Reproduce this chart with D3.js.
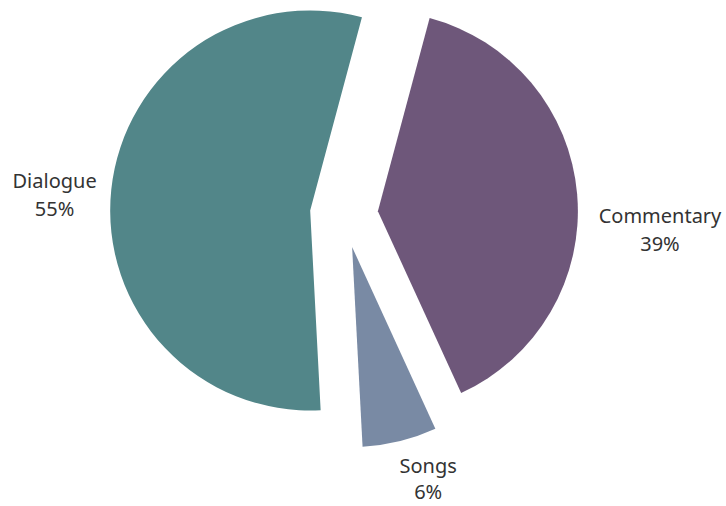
<!DOCTYPE html>
<html>
<head>
  <meta charset="UTF-8">
  <script src="https://d3js.org/d3.v7.min.js"></script>
  <style>
    body { margin: 0; background: #fff; }
    text { font-family: "Noto Sans", sans-serif; font-size: 20px; fill: #333; }
  </style>
</head>
<body>
  <div id="my_dataviz"></div>
  <script>
    // data
    var categories = ["Commentary", "Songs", "Dialogue"];
    var shares = [39, 6, 55];
    var colors = ["#6e577a", "#798aa4", "#528689"];

    var width = 726, height = 506;
    var cx = 344, cy = 214;
    var radius = 200;
    var explode = 34;
    var startDeg = 15;

    // label nudges (px) relative to the label arc, plus line gap
    var nudge = {
      "Dialogue": [-1, 4, 28],
      "Commentary": [27, 33, 28],
      "Songs": [15, -23, 26]
    };

    var data = categories.map(function (c, i) {
      return { name: c, value: shares[i], color: colors[i] };
    });

    var svg = d3.select("#my_dataviz")
      .append("svg")
      .attr("width", width)
      .attr("height", height);

    var g = svg.append("g")
      .attr("transform", "translate(" + cx + "," + cy + ")");

    var start = startDeg * Math.PI / 180;
    var pie = d3.pie()
      .sort(null)
      .value(function (d) { return d.value; })
      .startAngle(start)
      .endAngle(start + 2 * Math.PI);

    var arc = d3.arc().innerRadius(0).outerRadius(radius);
    var labelR = 290;

    var arcs = pie(data);

    function offset(d, r) {
      var a = (d.startAngle + d.endAngle) / 2;
      return [Math.sin(a) * r, -Math.cos(a) * r];
    }

    // slices
    g.selectAll("path")
      .data(arcs)
      .enter()
      .append("path")
      .attr("d", arc)
      .attr("fill", function (d) { return d.data.color; })
      .attr("transform", function (d) {
        var o = offset(d, explode);
        return "translate(" + o[0] + "," + o[1] + ")";
      });

    // labels
    var labels = g.selectAll("text.lbl")
      .data(arcs)
      .enter()
      .append("text")
      .attr("class", "lbl")
      .attr("text-anchor", "middle")
      .attr("transform", function (d) {
        var o = offset(d, labelR);
        var n = nudge[d.data.name];
        return "translate(" + (o[0] + n[0]) + "," + (o[1] + n[1]) + ")";
      });

    labels.append("tspan")
      .attr("x", 0)
      .attr("y", 0)
      .text(function (d) { return d.data.name; });

    labels.append("tspan")
      .attr("x", 0)
      .attr("y", function (d) { return nudge[d.data.name][2]; })
      .text(function (d) { return d.data.value + "%"; });
  </script>
</body>
</html>
